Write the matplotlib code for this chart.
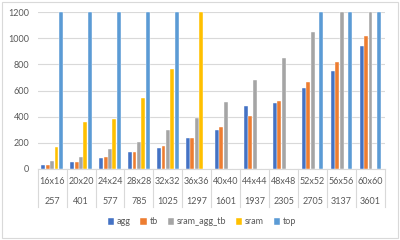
import matplotlib
matplotlib.use("Agg")
import matplotlib.pyplot as plt
import numpy as np
from matplotlib.patches import Rectangle
import matplotlib.transforms as mtransforms

plt.rcParams['font.family'] = ['Lato', 'DejaVu Sans']

categories = ["16x16", "20x20", "24x24", "28x28", "32x32", "36x36",
              "40x40", "44x44", "48x48", "52x52", "56x56", "60x60"]
sublabels = ["257", "401", "577", "785", "1025", "1297",
             "1601", "1937", "2305", "2705", "3137", "3601"]
agg = [33, 54, 84, 128, 161, 235, 301, 482, 503, 623, 748, 944]
tb = [33, 54, 89, 128, 176, 240, 324, 403, 523, 666, 819, 1016]
sram_agg_tb = [59, 94, 151, 207, 296, 391, 513, 679, 848, 1051, 1200, 1200]
sram = [166, 362, 383, 541, 763, 1200, 0, 0, 0, 0, 0, 0]
top = [1200, 1200, 1200, 1200, 1200, 0, 0, 0, 0, 1200, 1200, 1200]

series = [("agg", agg, "#4472C4"), ("tb", tb, "#ED7D31"),
          ("sram_agg_tb", sram_agg_tb, "#A5A5A5"),
          ("sram", sram, "#FFC000"), ("top", top, "#5B9BD5")]

fig = plt.figure(figsize=(4, 2.4), dpi=100)
ax = fig.add_axes([0.094, 0.296, 0.8685, 0.653])

x = np.arange(len(categories))
step = 0.152
width = 0.135
for i, (name, vals, col) in enumerate(series):
    ax.bar(x + (i - 2) * step, vals, width=width, color=col, label=name,
           edgecolor="white", linewidth=0.3, zorder=3)

ax.set_xlim(-0.5, len(categories) - 0.5)
ax.set_ylim(0, 1200)
ax.set_yticks(range(0, 1201, 200))
ax.tick_params(axis='y', length=0, labelsize=6.5, colors="#595959", pad=6)
ax.set_xticks([])
ax.grid(axis='y', color="#D9D9D9", linewidth=0.8, zorder=0)
for s in ["top", "right", "left"]:
    ax.spines[s].set_visible(False)
ax.spines["bottom"].set_color("#D9D9D9")
ax.spines["bottom"].set_linewidth(0.8)

trans = mtransforms.blended_transform_factory(ax.transData, ax.transAxes)
for b in np.arange(-0.5, len(categories), 1.0):
    ax.plot([b, b], [0, -0.243], transform=trans, color="#D9D9D9",
            linewidth=0.8, clip_on=False)
for xi, lab, sub in zip(x, categories, sublabels):
    ax.text(xi, -0.083, lab, transform=trans, ha="center", va="center",
            fontsize=6.5, color="#595959")
    ax.text(xi, -0.21, sub, transform=trans, ha="center", va="center",
            fontsize=6.5, color="#595959")

leg = fig.legend(loc="center", bbox_to_anchor=(0.505, 0.075), ncol=5,
                 frameon=False, fontsize=6.5, handlelength=0.7,
                 handleheight=0.7, handletextpad=0.3, columnspacing=1.1)
for t in leg.get_texts():
    t.set_color("#595959")

fig.patches.append(Rectangle((0.005, 0.008), 0.99, 0.984, transform=fig.transFigure,
                             fill=False, edgecolor="#D9D9D9", linewidth=0.8))

fig.savefig("out.png", dpi=100, facecolor="white")
